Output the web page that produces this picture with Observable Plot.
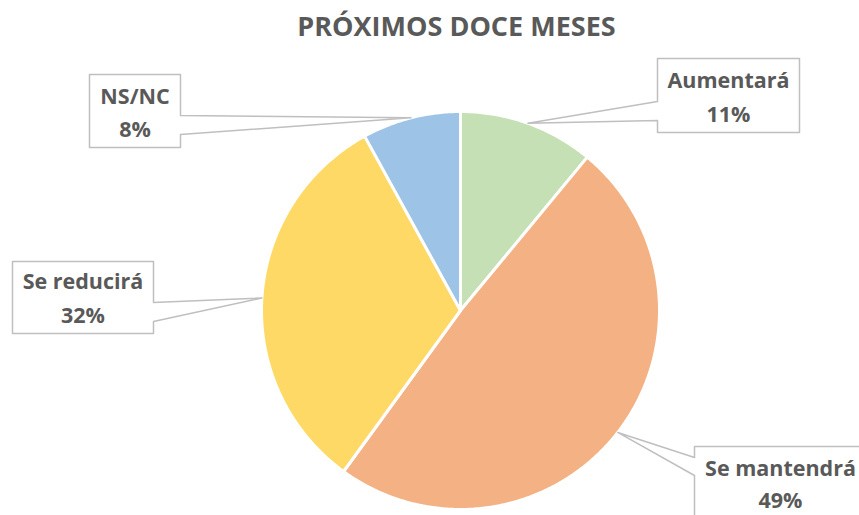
<!DOCTYPE html>
<html>
<head>
<meta charset="utf-8">
<script src="https://cdn.jsdelivr.net/npm/d3@7"></script>
<script src="https://cdn.jsdelivr.net/npm/@observablehq/plot@0.6"></script>
<style>
  html, body { margin: 0; padding: 0; background: #fff; }
  #chart svg { display: block; }
</style>
</head>
<body>
<div id="chart"></div>
<script>
// ---- data ----
const title = "PRÓXIMOS DOCE MESES";
const categories = ["Aumentará", "Se mantendrá", "Se reducirá", "NS/NC"];
const values = [11, 49, 32, 8];
const colors = ["#C5E0B4", "#F4B183", "#FFD966", "#9DC3E6"];

// ---- layout ----
const W = 859, H = 515;
const CX = 460, CY = 310, R = 199;
const toU = px => (px - CX) / R;
const toV = py => (CY - py) / R;

// callout boxes (pixel layout)
const boxes = [
  {L: 657, R: 799, T: 58,  B: 132, w1: 101, w2: 120, side: "left",  b1: 87,  b2: 121},
  {L: 694, R: 866, T: 446, B: 519, w1: 457, w2: 475, side: "left",  b1: 475, b2: 507},
  {L: 12,  R: 153, T: 261, B: 333, w1: 302, w2: 321, side: "right", b1: 288, b2: 322},
  {L: 89,  R: 180, T: 74,  B: 147, w1: 115, w2: 134, side: "right", b1: 103, b2: 136}
];

const arcs = d3.pie().sort(null).startAngle(0).endAngle(2 * Math.PI)(values);

const slicePts = [];
arcs.forEach((a, i) => {
  slicePts.push({k: i, u: 0, v: 0});
  const n = Math.max(8, Math.ceil((a.endAngle - a.startAngle) / 0.01));
  for (let j = 0; j <= n; j++) {
    const t = a.startAngle + (a.endAngle - a.startAngle) * j / n;
    slicePts.push({k: i, u: Math.sin(t), v: Math.cos(t)});
  }
});

const calloutPts = [];
arcs.forEach((a, i) => {
  const b = boxes[i];
  const mid = (a.startAngle + a.endAngle) / 2;
  const tip = [Math.sin(mid), Math.cos(mid)];
  let pts;
  if (b.side === "right") {
    pts = [[b.L, b.T], [b.R, b.T], [b.R, b.w1], "tip", [b.R, b.w2], [b.R, b.B], [b.L, b.B]];
  } else {
    pts = [[b.L, b.T], [b.R, b.T], [b.R, b.B], [b.L, b.B], [b.L, b.w2], "tip", [b.L, b.w1]];
  }
  pts.forEach(p => {
    if (p === "tip") calloutPts.push({k: i, u: tip[0], v: tip[1]});
    else calloutPts.push({k: i, u: toU(p[0]), v: toV(p[1])});
  });
});

const labelLines = [];
categories.forEach((c, i) => {
  const b = boxes[i];
  const cx = i === 1 ? 780 : (b.L + b.R) / 2;
  labelLines.push({u: toU(cx), v: toV(b.b1), text: c});
  labelLines.push({u: toU(cx), v: toV(b.b2), text: values[i] + "%"});
});

const marks = [];
categories.forEach((c, i) => {
  marks.push(Plot.line(slicePts.filter(d => d.k === i), {
    x: "u", y: "v", curve: "linear-closed",
    fill: colors[i], stroke: "#ffffff", strokeWidth: 3, strokeLinejoin: "round"
  }));
});
categories.forEach((c, i) => {
  marks.push(Plot.line(calloutPts.filter(d => d.k === i), {
    x: "u", y: "v", curve: "linear-closed",
    fill: "#ffffff", stroke: "#BFBFBF", strokeWidth: 1.5
  }));
});
marks.push(Plot.text(labelLines, {
  x: "u", y: "v", text: "text", lineAnchor: "bottom", textAnchor: "middle",
  fill: "#595959", fontSize: 21.5, fontWeight: "bold", fontFamily: "Open Sans"
}));
marks.push(Plot.text([title], {
  x: toU(456), y: toV(35), text: d => d, lineAnchor: "bottom", textAnchor: "middle",
  fill: "#595959", fontSize: 27, fontWeight: "bold", fontFamily: "Open Sans"
}));

const chart = Plot.plot({
  width: W, height: H,
  margin: 0,
  x: {domain: [toU(0), toU(W)], axis: null},
  y: {domain: [toV(H), toV(0)], axis: null},
  style: {background: "#fff", overflow: "hidden"},
  marks
});
document.getElementById("chart").appendChild(chart);
</script>
</body>
</html>
